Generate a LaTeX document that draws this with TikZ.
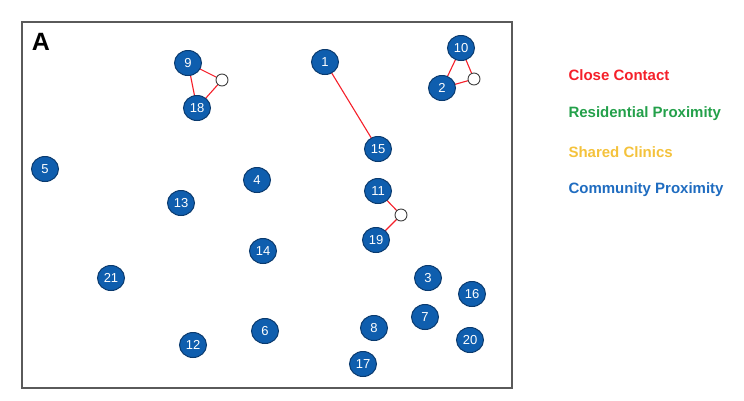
\documentclass[tikz,border=0pt]{standalone}
\usepackage{fontspec}
\setmainfont{Liberation Sans}
\usetikzlibrary{shapes.geometric,backgrounds}
\definecolor{nodeblue}{HTML}{0F5EAE}
\definecolor{nodeedge}{HTML}{0A3A6E}
\definecolor{cred}{HTML}{F5202A}
\definecolor{cgreen}{HTML}{23A04A}
\definecolor{cyellow}{HTML}{F4C23C}
\definecolor{cblue}{HTML}{1F6CC0}
\definecolor{framegray}{HTML}{5A5A5A}
\begin{document}
\begin{tikzpicture}[x=1pt,y=-1pt,
  pnode/.style={ellipse,draw=nodeedge,line width=1pt,fill=nodeblue,minimum width=27pt,minimum height=25pt,inner sep=0pt,text=white,font=\fontsize{13}{14}\selectfont},
  hub/.style={circle,draw=black!75,line width=0.9pt,fill=white,minimum size=12pt,inner sep=0pt},
  link/.style={draw=cred,line width=1.1pt},
  legend/.style={anchor=west,font=\bfseries\fontsize{15}{17}\selectfont}]
\useasboundingbox (0,0) rectangle (744,400);
\draw[framegray,line width=1.5pt] (22,22) rectangle (512,388);
\node[anchor=center,font=\bfseries\fontsize{25}{27}\selectfont] (lblA) at (41,42) {A};
% nodes
\node[pnode] (n9) at (188,63) {9};
\node[pnode] (n18) at (197,108) {18};
\node[hub] (h1) at (222,80) {};
\node[pnode] (n1) at (325,62) {1};
\node[pnode] (n15) at (378,149) {15};
\node[pnode] (n10) at (461,48) {10};
\node[pnode] (n2) at (442,88) {2};
\node[hub] (h2) at (474,79) {};
\node[pnode] (n5) at (45,169) {5};
\node[pnode] (n4) at (257,180) {4};
\node[pnode] (n13) at (181,203) {13};
\node[pnode] (n11) at (378,191) {11};
\node[hub] (h3) at (401,215) {};
\node[pnode] (n19) at (376,240) {19};
\node[pnode] (n14) at (263,251) {14};
\node[pnode] (n21) at (111,278) {21};
\node[pnode] (n3) at (428,278) {3};
\node[pnode] (n16) at (472,294) {16};
\node[pnode] (n7) at (425,317) {7};
\node[pnode] (n6) at (265,331) {6};
\node[pnode] (n8) at (374,328) {8};
\node[pnode] (n20) at (470,340) {20};
\node[pnode] (n12) at (193,345) {12};
\node[pnode] (n17) at (363,364) {17};
% links
\begin{pgfonlayer}{background}
\draw[link] (n9.center) -- (n18.center);
\draw[link] (n9.center) -- (h1.center);
\draw[link] (n18.center) -- (h1.center);
\draw[link] (n1.center) -- (n15.center);
\draw[link] (n10.center) -- (n2.center);
\draw[link] (n10.center) -- (h2.center);
\draw[link] (n2.center) -- (h2.center);
\draw[link] (n11.center) -- (h3.center);
\draw[link] (h3.center) -- (n19.center);
\end{pgfonlayer}
% legend
\node[legend,text=cred] (lg1) at (565,75) {Close Contact};
\node[legend,text=cgreen] (lg2) at (565,114) {Residential Proximity};
\node[legend,text=cyellow] (lg3) at (565,152) {Shared Clinics};
\node[legend,text=cblue] (lg4) at (565,190) {Community Proximity};
\end{tikzpicture}
\end{document}
